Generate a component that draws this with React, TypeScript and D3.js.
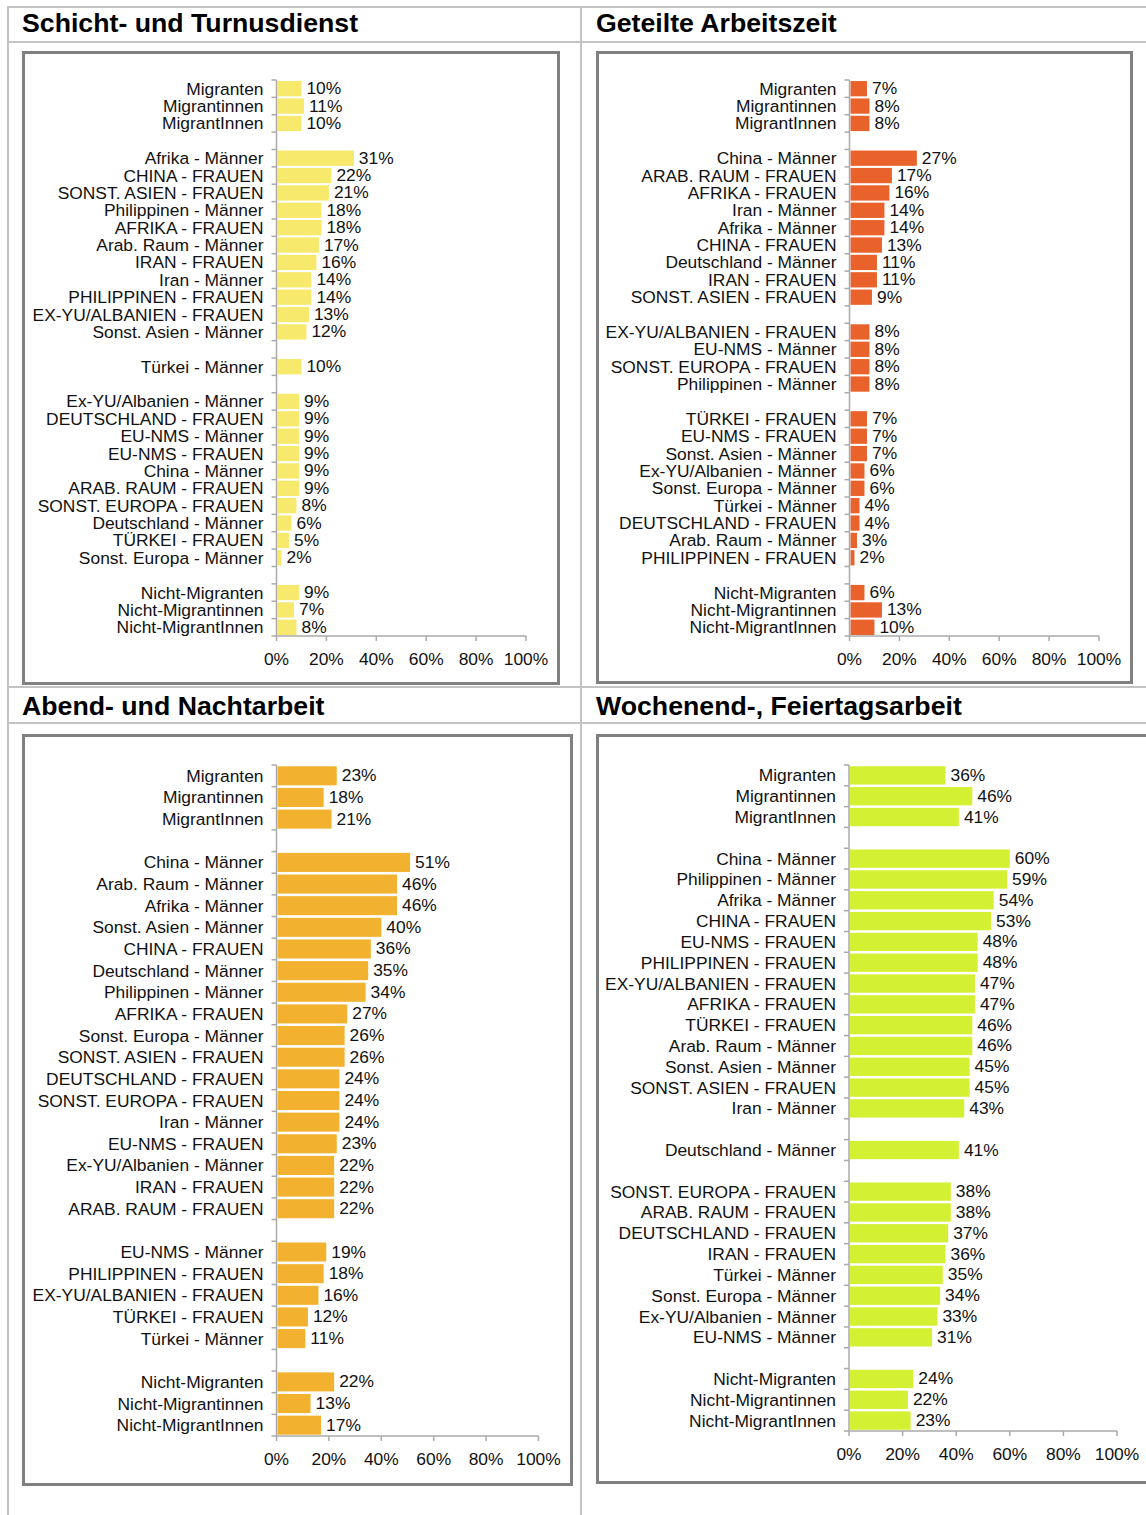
import React from 'react';
import * as d3 from 'd3';

// Schicht- und Turnusdienst
const schichtLabels = [
  'Migranten', 'Migrantinnen', 'MigrantInnen', '',
  'Afrika - Männer', 'CHINA - FRAUEN', 'SONST. ASIEN - FRAUEN', 'Philippinen - Männer',
  'AFRIKA - FRAUEN', 'Arab. Raum - Männer', 'IRAN - FRAUEN', 'Iran - Männer',
  'PHILIPPINEN - FRAUEN', 'EX-YU/ALBANIEN - FRAUEN', 'Sonst. Asien - Männer', '',
  'Türkei - Männer', '',
  'Ex-YU/Albanien - Männer', 'DEUTSCHLAND - FRAUEN', 'EU-NMS - Männer', 'EU-NMS - FRAUEN',
  'China - Männer', 'ARAB. RAUM - FRAUEN', 'SONST. EUROPA - FRAUEN', 'Deutschland - Männer',
  'TÜRKEI - FRAUEN', 'Sonst. Europa - Männer', '',
  'Nicht-Migranten', 'Nicht-Migrantinnen', 'Nicht-MigrantInnen',
];
const schichtValues = [
  10, 11, 10, null,
  31, 22, 21, 18, 18, 17, 16, 14, 14, 13, 12, null,
  10, null,
  9, 9, 9, 9, 9, 9, 8, 6, 5, 2, null,
  9, 7, 8,
];

// Geteilte Arbeitszeit
const geteiltLabels = [
  'Migranten', 'Migrantinnen', 'MigrantInnen', '',
  'China - Männer', 'ARAB. RAUM - FRAUEN', 'AFRIKA - FRAUEN', 'Iran - Männer',
  'Afrika - Männer', 'CHINA - FRAUEN', 'Deutschland - Männer', 'IRAN - FRAUEN',
  'SONST. ASIEN - FRAUEN', '',
  'EX-YU/ALBANIEN - FRAUEN', 'EU-NMS - Männer', 'SONST. EUROPA - FRAUEN', 'Philippinen - Männer', '',
  'TÜRKEI - FRAUEN', 'EU-NMS - FRAUEN', 'Sonst. Asien - Männer', 'Ex-YU/Albanien - Männer',
  'Sonst. Europa - Männer', 'Türkei - Männer', 'DEUTSCHLAND - FRAUEN', 'Arab. Raum - Männer',
  'PHILIPPINEN - FRAUEN', '',
  'Nicht-Migranten', 'Nicht-Migrantinnen', 'Nicht-MigrantInnen',
];
const geteiltValues = [
  7, 8, 8, null,
  27, 17, 16, 14, 14, 13, 11, 11, 9, null,
  8, 8, 8, 8, null,
  7, 7, 7, 6, 6, 4, 4, 3, 2, null,
  6, 13, 10,
];

// Abend- und Nachtarbeit
const abendLabels = [
  'Migranten', 'Migrantinnen', 'MigrantInnen', '',
  'China - Männer', 'Arab. Raum - Männer', 'Afrika - Männer', 'Sonst. Asien - Männer',
  'CHINA - FRAUEN', 'Deutschland - Männer', 'Philippinen - Männer', 'AFRIKA - FRAUEN',
  'Sonst. Europa - Männer', 'SONST. ASIEN - FRAUEN', 'DEUTSCHLAND - FRAUEN', 'SONST. EUROPA - FRAUEN',
  'Iran - Männer', 'EU-NMS - FRAUEN', 'Ex-YU/Albanien - Männer', 'IRAN - FRAUEN',
  'ARAB. RAUM - FRAUEN', '',
  'EU-NMS - Männer', 'PHILIPPINEN - FRAUEN', 'EX-YU/ALBANIEN - FRAUEN', 'TÜRKEI - FRAUEN',
  'Türkei - Männer', '',
  'Nicht-Migranten', 'Nicht-Migrantinnen', 'Nicht-MigrantInnen',
];
const abendValues = [
  23, 18, 21, null,
  51, 46, 46, 40, 36, 35, 34, 27, 26, 26, 24, 24, 24, 23, 22, 22, 22, null,
  19, 18, 16, 12, 11, null,
  22, 13, 17,
];

// Wochenend-, Feiertagsarbeit
const wochenLabels = [
  'Migranten', 'Migrantinnen', 'MigrantInnen', '',
  'China - Männer', 'Philippinen - Männer', 'Afrika - Männer', 'CHINA - FRAUEN',
  'EU-NMS - FRAUEN', 'PHILIPPINEN - FRAUEN', 'EX-YU/ALBANIEN - FRAUEN', 'AFRIKA - FRAUEN',
  'TÜRKEI - FRAUEN', 'Arab. Raum - Männer', 'Sonst. Asien - Männer', 'SONST. ASIEN - FRAUEN',
  'Iran - Männer', '',
  'Deutschland - Männer', '',
  'SONST. EUROPA - FRAUEN', 'ARAB. RAUM - FRAUEN', 'DEUTSCHLAND - FRAUEN', 'IRAN - FRAUEN',
  'Türkei - Männer', 'Sonst. Europa - Männer', 'Ex-YU/Albanien - Männer', 'EU-NMS - Männer', '',
  'Nicht-Migranten', 'Nicht-Migrantinnen', 'Nicht-MigrantInnen',
];
const wochenValues = [
  36, 46, 41, null,
  60, 59, 54, 53, 48, 48, 47, 47, 46, 46, 45, 45, 43, null,
  41, null,
  38, 38, 37, 36, 35, 34, 33, 31, null,
  24, 22, 23,
];

const xTicks = [0, 20, 40, 60, 80, 100];

const FONT = '"Liberation Sans", Arial, sans-serif';
const GRID = '#c3c3c3';
const BOX = '#808080';
const AXIS = '#aaaaaa';
const LABEL_SIZE = 17.4;

const Panel = ({ title, titleX, titleY, box, axis, labels, values, color }) => {
  const x = d3.scaleLinear().domain([0, 100]).range([axis.x0, axis.x1]);
  const y = d3
    .scaleBand()
    .domain(labels.map((_, i) => String(i)))
    .range([axis.top, axis.bottom])
    .paddingInner(0.12)
    .paddingOuter(0.06);
  const step = y.step();
  const boundaries = d3.range(labels.length + 1).map((i) => axis.top + i * step);

  return (
    <g>
      <text x={titleX} y={titleY} fontSize={26.7} fontWeight="bold" fill="#000">
        {title}
      </text>
      <rect x={box.x} y={box.y} width={box.w} height={box.h} fill="#fff" stroke={BOX} strokeWidth={3} />

      {/* bars */}
      {labels.map((lab, i) =>
        values[i] == null ? null : (
          <g key={i}>
            <rect
              x={x(0) + 1}
              y={y(String(i))}
              width={x(values[i]) - x(0) - 1}
              height={y.bandwidth()}
              fill={color}
            />
            <text
              x={x(values[i]) + 5}
              y={y(String(i)) + y.bandwidth() / 2 - 0.5}
              dominantBaseline="central"
              fontSize={LABEL_SIZE}
              fill="#111"
            >
              {values[i]}%
            </text>
          </g>
        )
      )}

      {/* category labels */}
      {labels.map((lab, i) =>
        lab ? (
          <text
            key={'l' + i}
            x={axis.x0 - 13}
            y={axis.top + (i + 0.5) * step}
            textAnchor="end"
            dominantBaseline="central"
            fontSize={LABEL_SIZE}
            fill="#111"
          >
            {lab}
          </text>
        ) : null
      )}

      {/* y axis */}
      <line x1={axis.x0} x2={axis.x0} y1={axis.top} y2={axis.bottom} stroke={AXIS} strokeWidth={1.5} />
      {boundaries.map((b, i) => (
        <line key={'t' + i} x1={axis.x0 - 5} x2={axis.x0} y1={b} y2={b} stroke={AXIS} strokeWidth={1.5} />
      ))}

      {/* x axis */}
      <line x1={axis.x0} x2={axis.x1} y1={axis.bottom} y2={axis.bottom} stroke={AXIS} strokeWidth={1.5} />
      {xTicks.map((t) => (
        <g key={'x' + t}>
          <line x1={x(t)} x2={x(t)} y1={axis.bottom} y2={axis.bottom + 5} stroke={AXIS} strokeWidth={1.5} />
          <text
            x={x(t)}
            y={axis.bottom + 23}
            textAnchor="middle"
            dominantBaseline="central"
            fontSize={LABEL_SIZE}
            fill="#111"
          >
            {t}%
          </text>
        </g>
      ))}
    </g>
  );
};

export default function App() {
  return (
    <svg
      width={1146}
      height={1515}
      style={{ position: 'absolute', left: 0, top: 0, background: '#fff' }}
      fontFamily={FONT}
    >
      {/* page grid */}
      <line x1={8} x2={1146} y1={7} y2={7} stroke={GRID} strokeWidth={2} />
      <line x1={8} x2={1146} y1={42} y2={42} stroke={GRID} strokeWidth={2} />
      <line x1={8} x2={1146} y1={687} y2={687} stroke={GRID} strokeWidth={2} />
      <line x1={8} x2={1146} y1={723} y2={723} stroke={GRID} strokeWidth={2} />
      <line x1={8} x2={8} y1={6} y2={1515} stroke={GRID} strokeWidth={2} />
      <line x1={581} x2={581} y1={6} y2={1515} stroke={GRID} strokeWidth={2} />

      <Panel
        title="Schicht- und Turnusdienst"
        titleX={22}
        titleY={32}
        box={{ x: 23.5, y: 52.5, w: 535, h: 631 }}
        axis={{ x0: 276.5, x1: 526, top: 80, bottom: 636 }}
        labels={schichtLabels}
        values={schichtValues}
        color="#f7e96b"
      />
      <Panel
        title="Geteilte Arbeitszeit"
        titleX={596}
        titleY={32}
        box={{ x: 597.5, y: 52.5, w: 534, h: 630 }}
        axis={{ x0: 849.5, x1: 1099, top: 80, bottom: 636 }}
        labels={geteiltLabels}
        values={geteiltValues}
        color="#e9622c"
      />
      <Panel
        title="Abend- und Nachtarbeit"
        titleX={22}
        titleY={715}
        box={{ x: 23.5, y: 735.5, w: 548, h: 749 }}
        axis={{ x0: 276.5, x1: 538.5, top: 765, bottom: 1436 }}
        labels={abendLabels}
        values={abendValues}
        color="#f2b12e"
      />
      <Panel
        title="Wochenend-, Feiertagsarbeit"
        titleX={596}
        titleY={715}
        box={{ x: 597.5, y: 735.5, w: 600, h: 747 }}
        axis={{ x0: 849, x1: 1117, top: 765, bottom: 1431 }}
        labels={wochenLabels}
        values={wochenValues}
        color="#d4f032"
      />
    </svg>
  );
}
